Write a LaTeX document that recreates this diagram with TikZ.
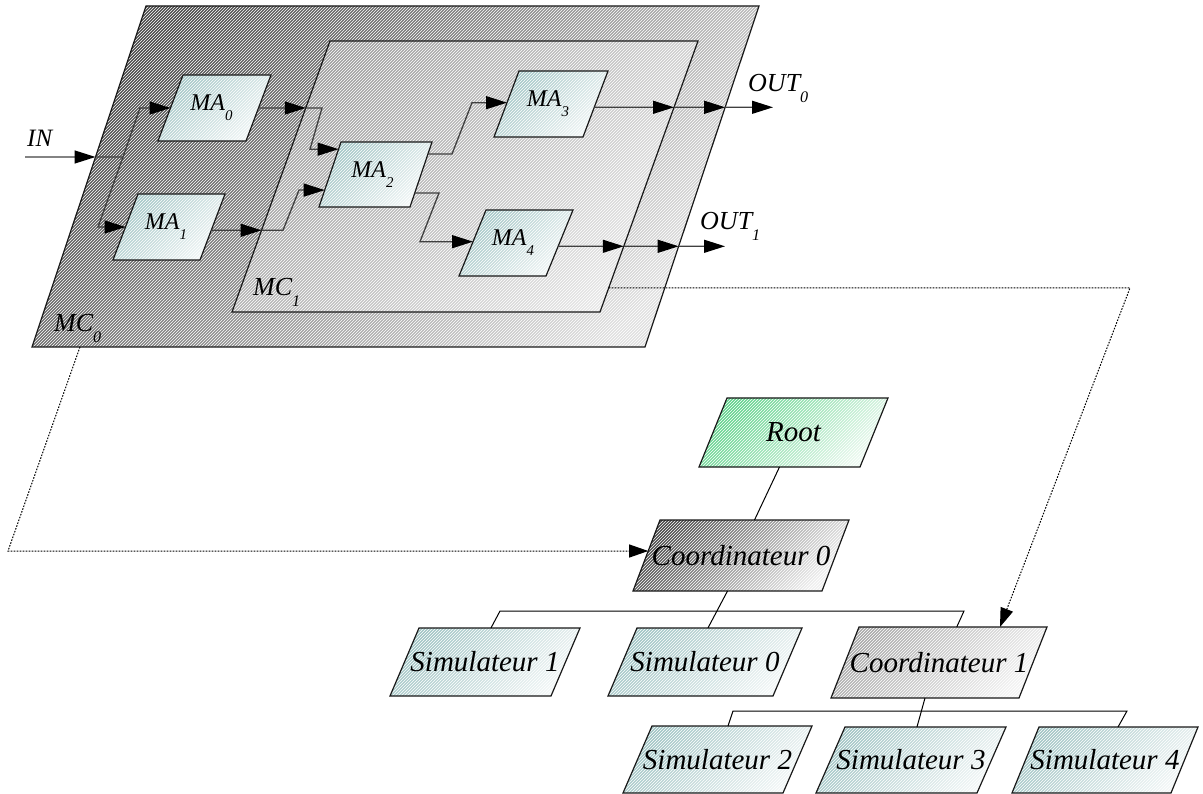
\documentclass[tikz,border=0pt]{standalone}
\usepackage{fontspec}
\setmainfont{Liberation Serif}
\newfontfamily\labfont{Liberation Serif}
\usetikzlibrary{calc,arrows.meta,patterns}

\definecolor{mcA}{HTML}{4A4A4A}   \definecolor{mcB}{HTML}{E0E0E0}
\definecolor{mciA}{HTML}{9C9C9C}  \definecolor{mciB}{HTML}{E6E6E6}
\definecolor{tealA}{HTML}{A0C4C4} \definecolor{tealB}{HTML}{F2F7F7}
\definecolor{greenA}{HTML}{5ED28A}\definecolor{greenB}{HTML}{EDFAF1}
\definecolor{coA}{HTML}{4A4A4A}   \definecolor{coB}{HTML}{F0F0F0}
\definecolor{coiA}{HTML}{A8A8A8}  \definecolor{coiB}{HTML}{F4F4F4}

% lowered, reduced index
\newcommand\lsub[1]{\raisebox{-.42em}{\scalebox{.62}{#1}}}

% parallelogram: style, name, top-left x, top y, top width, height, slant
\newcommand\pbox[7]{%
  \coordinate (#2-tl) at (#3,#4);
  \coordinate (#2-tr) at (#3+#5,#4);
  \coordinate (#2-br) at (#3+#5-#7,#4+#6);
  \coordinate (#2-bl) at (#3-#7,#4+#6);
  \coordinate (#2-c) at (#3+#5/2-#7/2,#4+#6/2);
  \path[#1] (#2-tl) -- (#2-tr) -- (#2-br) -- (#2-bl) -- cycle;
  \fill[hatch] (#2-tl) -- (#2-tr) -- (#2-br) -- (#2-bl) -- cycle;
  \draw[frame] (#2-tl) -- (#2-tr) -- (#2-br) -- (#2-bl) -- cycle;
}

\tikzset{
  grad/.style 2 args={top color=#1, bottom color=#2, shading angle=45},
  hatch/.style={pattern=north east lines, pattern color=white, fill opacity=.09},
  frame/.style={draw=black!90, line width=1.2pt},
  tip/.style={-{Triangle[length=21pt,width=13pt,color=black,fill=black]}},
  flow/.style={draw=black!75, line width=1.3pt, tip},
  link/.style={draw=black, line width=1pt, dash pattern=on 1.6pt off 1.4pt,
               -{Triangle[length=19pt,width=13pt,color=black,fill=black]}},
  tree/.style={draw=black, line width=1pt},
  malab/.style={font=\labfont\itshape\fontsize{24}{28}\selectfont, inner sep=0pt},
  mclab/.style={font=\labfont\itshape\fontsize{26}{30}\selectfont, inner sep=0pt, anchor=base west},
  boxlab/.style={font=\labfont\itshape\fontsize{29}{34}\selectfont, inner sep=0pt},
}

\begin{document}
\begin{tikzpicture}[x=1pt,y=-1pt]
\useasboundingbox (0,0) rectangle (1203,794);

% ---- coupled models
\pbox{grad={mcA}{mcB}}{mc0}{146}{6}{613}{341}{114}
\pbox{grad={mciA}{mciB}}{mc1}{330}{41}{368}{271}{98}

% ---- atomic models
\pbox{grad={tealA}{tealB}}{ma0}{183}{75}{88}{66}{25}
\pbox{grad={tealA}{tealB}}{ma1}{138}{194}{87}{66}{25}
\pbox{grad={tealA}{tealB}}{ma2}{341}{142}{91}{65}{22}
\pbox{grad={tealA}{tealB}}{ma3}{519}{71}{89}{66}{25}
\pbox{grad={tealA}{tealB}}{ma4}{486}{210}{87}{66}{27}

\node[malab] (ma0) at ($(ma0-c)+(-3,0)$) {MA\lsub{0}};
\node[malab] (ma1) at ($(ma1-c)+(-3,0)$) {MA\lsub{1}};
\node[malab] (ma2) at ($(ma2-c)+(-3,0)$) {MA\lsub{2}};
\node[malab] (ma3) at ($(ma3-c)+(-3,0)$) {MA\lsub{3}};
\node[malab] (ma4) at ($(ma4-c)+(-3,0)$) {MA\lsub{4}};

\node[mclab] (mc0) at (54,332) {MC\lsub{0}};
\node[mclab] (mc1) at (253,296) {MC\lsub{1}};
\node[mclab, font=\labfont\itshape\fontsize{25}{29}\selectfont] (in) at (27,147) {IN};
\node[mclab] (out0) at (748,92) {OUT\lsub{0}};
\node[mclab] (out1) at (700,230) {OUT\lsub{1}};

% ---- ports
\coordinate (ma0-in)  at ($(ma0-tl)!.5!(ma0-bl)$);
\coordinate (ma0-out) at ($(ma0-tr)!.5!(ma0-br)$);
\coordinate (ma1-in)  at ($(ma1-tl)!.5!(ma1-bl)$);
\coordinate (ma1-out) at ($(ma1-tr)!.55!(ma1-br)$);
\coordinate (ma2-inA) at ($(ma2-tl)!.11!(ma2-bl)$);
\coordinate (ma2-inB) at ($(ma2-tl)!.74!(ma2-bl)$);
\coordinate (ma2-outA) at ($(ma2-tr)!.185!(ma2-br)$);
\coordinate (ma2-outB) at ($(ma2-tr)!.785!(ma2-br)$);
\coordinate (ma3-in)  at ($(ma3-tl)!.48!(ma3-bl)$);
\coordinate (ma3-out) at ($(ma3-tr)!.55!(ma3-br)$);
\coordinate (ma4-in)  at ($(ma4-tl)!.48!(ma4-bl)$);
\coordinate (ma4-out) at ($(ma4-tr)!.55!(ma4-br)$);

% crossings of the container borders
\coordinate (in-s) at (25,157);
\coordinate (in-x) at ($(mc0-tl)!{151/341}!(mc0-bl)$);
\coordinate (x0) at ($(mc1-tl)!{67/271}!(mc1-bl)$);
\coordinate (x1) at ($(mc1-tl)!{189.3/271}!(mc1-bl)$);
\coordinate (x2) at ($(mc1-tr)!{66.3/271}!(mc1-br)$);
\coordinate (x3) at ($(mc0-tr)!{101.3/341}!(mc0-br)$);
\coordinate (x4) at ($(mc1-tr)!{205.3/271}!(mc1-br)$);
\coordinate (x5) at ($(mc0-tr)!{240.3/341}!(mc0-br)$);
\coordinate (o0) at (773,107.3);
\coordinate (o1) at (725,246.3);

% ---- couplings
\draw[flow] (in-s) -- (in-x);
\draw[flow, -] (in-x) -- (123,157);
\draw[flow] (123,157) -- (140,108) -- (ma0-in);
\draw[flow] (123,157) -- (98,227) -- (ma1-in);

\draw[flow] (ma0-out) -- (x0);
\draw[flow] (x0) -- (322,108) -- (310,149.2) -- (ma2-inA);
\draw[flow] (ma1-out) -- (x1);
\draw[flow] (x1) -- (283,230.3) -- (299,190.1) -- (ma2-inB);

\draw[flow] (ma2-outA) -- (452,154) -- (472,102.7) -- (ma3-in);
\draw[flow] (ma2-outB) -- (439,193) -- (420,241.7) -- (ma4-in);

\draw[flow] (ma3-out) -- (x2);
\draw[flow] (x2) -- (x3);
\draw[flow] (x3) -- (o0);
\draw[flow] (ma4-out) -- (x4);
\draw[flow] (x4) -- (x5);
\draw[flow] (x5) -- (o1);

% ---- simulation tree
\pbox{grad={greenA}{greenB}}{root}{727}{398}{161}{69}{28}
\pbox{grad={coA}{coB}}{co0}{660}{520}{189}{71}{27}
\pbox{grad={coiA}{coiB}}{co1}{859}{627}{188}{71}{28}
\pbox{grad={tealA}{tealB}}{sim1}{419}{628}{161}{68}{29}
\pbox{grad={tealA}{tealB}}{sim0}{637}{628}{165}{68}{29}
\pbox{grad={tealA}{tealB}}{sim2}{652}{726}{160}{67}{29}
\pbox{grad={tealA}{tealB}}{sim3}{845}{727}{161}{66}{29}
\pbox{grad={tealA}{tealB}}{sim4}{1039}{727}{159}{66}{27}

\node[boxlab] (root) at (root-c) {Root};
\node[boxlab] (co0) at (co0-c) {Coordinateur 0};
\node[boxlab] (co1) at (co1-c) {Coordinateur 1};
\node[boxlab] (sim1) at (sim1-c) {Simulateur 1};
\node[boxlab] (sim0) at (sim0-c) {Simulateur 0};
\node[boxlab] (sim2) at (sim2-c) {Simulateur 2};
\node[boxlab] (sim3) at (sim3-c) {Simulateur 3};
\node[boxlab] (sim4) at (sim4-c) {Simulateur 4};

\draw[tree] ($(root-bl)!.5!(root-br)$) -- ($(co0-tl)!.5!(co0-tr)$);
\draw[tree] ($(co0-bl)!.5!(co0-br)$) -- ($(sim0-tl)!.43!(sim0-tr)$);
\draw[tree] ($(sim1-tl)!.447!(sim1-tr)$) -- (500,611) -- (964,611)
            -- ($(co1-tl)!.52!(co1-tr)$);
\draw[tree] ($(co1-bl)!.5!(co1-br)$) -- ($(sim3-tl)!.447!(sim3-tr)$);
\draw[tree] ($(sim2-tl)!.475!(sim2-tr)$) -- (733,711) -- (1127,711)
            -- ($(sim4-tl)!.497!(sim4-tr)$);

% ---- correspondence between coupled models and coordinators
\draw[link] ($(mc0-bl)!{48/613}!(mc0-br)$) -- (8,551)
            -- ($(co0-tl)!{31/71}!(co0-bl)$);
\draw[link] ($(mc1-tr)!{247/271}!(mc1-br)$) -- (1130,288)
            -- ($(co1-tl)!{141/188}!(co1-tr)$);
\end{tikzpicture}
\end{document}
